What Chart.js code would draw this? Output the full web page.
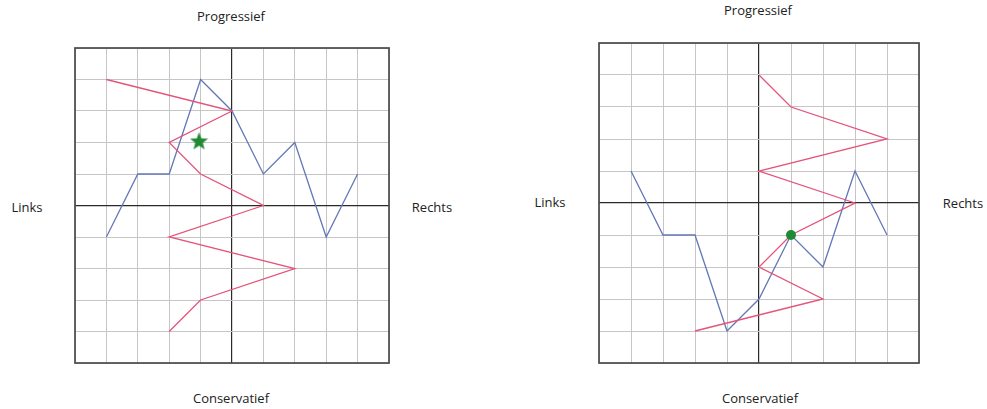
<!DOCTYPE html>
<html>
<head>
<meta charset="utf-8">
<script src="https://cdn.jsdelivr.net/npm/chart.js@4"></script>
<style>
    body { margin: 0; background: #fff; }
    #wrap { position: relative; width: 987px; height: 409px; font-family: "Open Sans", "Noto Sans", sans-serif; font-size: 13px; color: #222; }
    canvas { position: absolute; }
    .lbl { position: absolute; transform: translate(-50%, -50%); white-space: nowrap; }
</style>
</head>
<body>
<div id="wrap">
    <canvas id="leftChart" width="338" height="339" style="left:63px; top:36px;"></canvas>
    <canvas id="rightChart" width="344" height="344" style="left:587px; top:31px;"></canvas>

    <div class="lbl" style="left:231px; top:16px;">Progressief</div>
    <div class="lbl" style="left:231px; top:398px;">Conservatief</div>
    <div class="lbl" style="left:27px; top:207px;">Links</div>
    <div class="lbl" style="left:432px; top:207px;">Rechts</div>

    <div class="lbl" style="left:758px; top:10px;">Progressief</div>
    <div class="lbl" style="left:760px; top:398px;">Conservatief</div>
    <div class="lbl" style="left:550px; top:202px;">Links</div>
    <div class="lbl" style="left:963px; top:203px;">Rechts</div>
</div>

<script>
    // Left compass: blue and red paths, green star
    const leftBlueX = [-4, -3, -2, -1, 0, 1, 2, 3, 4];
    const leftBlueY = [-1, 1, 1, 4, 3, 1, 2, -1, 1];
    const leftRedX = [-4, 0, -2, -1, 1, -2, 2, -1, -2];
    const leftRedY = [4, 3, 2, 1, 0, -1, -2, -3, -4];
    const leftMarker = [-1.05, 2.05];

    // Right compass: blue and red paths, green dot
    const rightBlueX = [-4, -3, -2, -1, 0, 1, 2, 3, 4];
    const rightBlueY = [1, -1, -1, -4, -3, -1, -2, 1, -1];
    const rightRedX = [0, 1, 4, 0, 3, 1, 0, 2, -2];
    const rightRedY = [4, 3, 2, 1, 0, -1, -2, -3, -4];
    const rightMarker = [1, -1];

    const axisMin = -5;
    const axisMax = 5;

    const toPoints = (xs, ys) => xs.map((x, i) => ({ x: x, y: ys[i] }));

    // green five-point star used as point style
    function makeStar(size, color) {
        const c = document.createElement('canvas');
        c.width = size;
        c.height = size;
        const g = c.getContext('2d');
        const cx = size / 2, cy = size / 2 + 0.8;
        const outer = size / 2, inner = outer * 0.42;
        g.beginPath();
        for (let i = 0; i < 10; i++) {
            const r = i % 2 === 0 ? outer : inner;
            const a = -Math.PI / 2 + i * Math.PI / 5;
            const px = cx + r * Math.cos(a), py = cy + r * Math.sin(a);
            if (i === 0) g.moveTo(px, py); else g.lineTo(px, py);
        }
        g.closePath();
        g.fillStyle = color;
        g.fill();
        return c;
    }

    // outer frame of the grid
    const framePlugin = {
        id: 'frame',
        beforeDatasetsDraw(chart) {
            const a = chart.chartArea;
            const ctx = chart.ctx;
            ctx.save();
            ctx.strokeStyle = '#4a4a4a';
            ctx.lineWidth = 1.7;
            ctx.strokeRect(a.left, a.top, a.right - a.left, a.bottom - a.top);
            ctx.restore();
        }
    };

    function gridScale() {
        return {
            type: 'linear',
            min: axisMin,
            max: axisMax,
            ticks: { display: false, stepSize: 1 },
            grid: {
                drawTicks: false,
                color: ctx => ctx.tick && ctx.tick.value === 0 ? '#2a2a2a' : '#c6c6c6',
                lineWidth: ctx => ctx.tick && ctx.tick.value === 0 ? 1.2 : 1
            },
            border: { display: false }
        };
    }

    function makeChart(id, blue, red, marker, markerStyle, markerRadius) {
        new Chart(document.getElementById(id).getContext('2d'), {
            type: 'line',
            data: {
                datasets: [
                    {
                        data: [{ x: marker[0], y: marker[1] }],
                        showLine: false,
                        pointStyle: markerStyle,
                        pointRadius: markerRadius,
                        backgroundColor: '#1f8a34',
                        borderColor: '#1f8a34',
                        borderWidth: 0
                    },
                    {
                        data: red,
                        borderColor: '#e4537a', // red path
                        borderWidth: 1.3,
                        pointRadius: 0,
                        tension: 0
                    },
                    {
                        data: blue,
                        borderColor: '#6478b8', // blue path
                        borderWidth: 1.3,
                        pointRadius: 0,
                        tension: 0
                    }
                ]
            },
            options: {
                responsive: false,
                animation: false,
                events: [],
                layout: { padding: 12 },
                plugins: {
                    legend: { display: false },
                    tooltip: { enabled: false }
                },
                scales: {
                    x: gridScale(),
                    y: gridScale()
                }
            },
            plugins: [framePlugin]
        });
    }

    makeChart('leftChart', toPoints(leftBlueX, leftBlueY), toPoints(leftRedX, leftRedY),
        leftMarker, makeStar(19, '#1f8a34'), 1);
    makeChart('rightChart', toPoints(rightBlueX, rightBlueY), toPoints(rightRedX, rightRedY),
        rightMarker, 'circle', 5);
</script>
</body>
</html>
